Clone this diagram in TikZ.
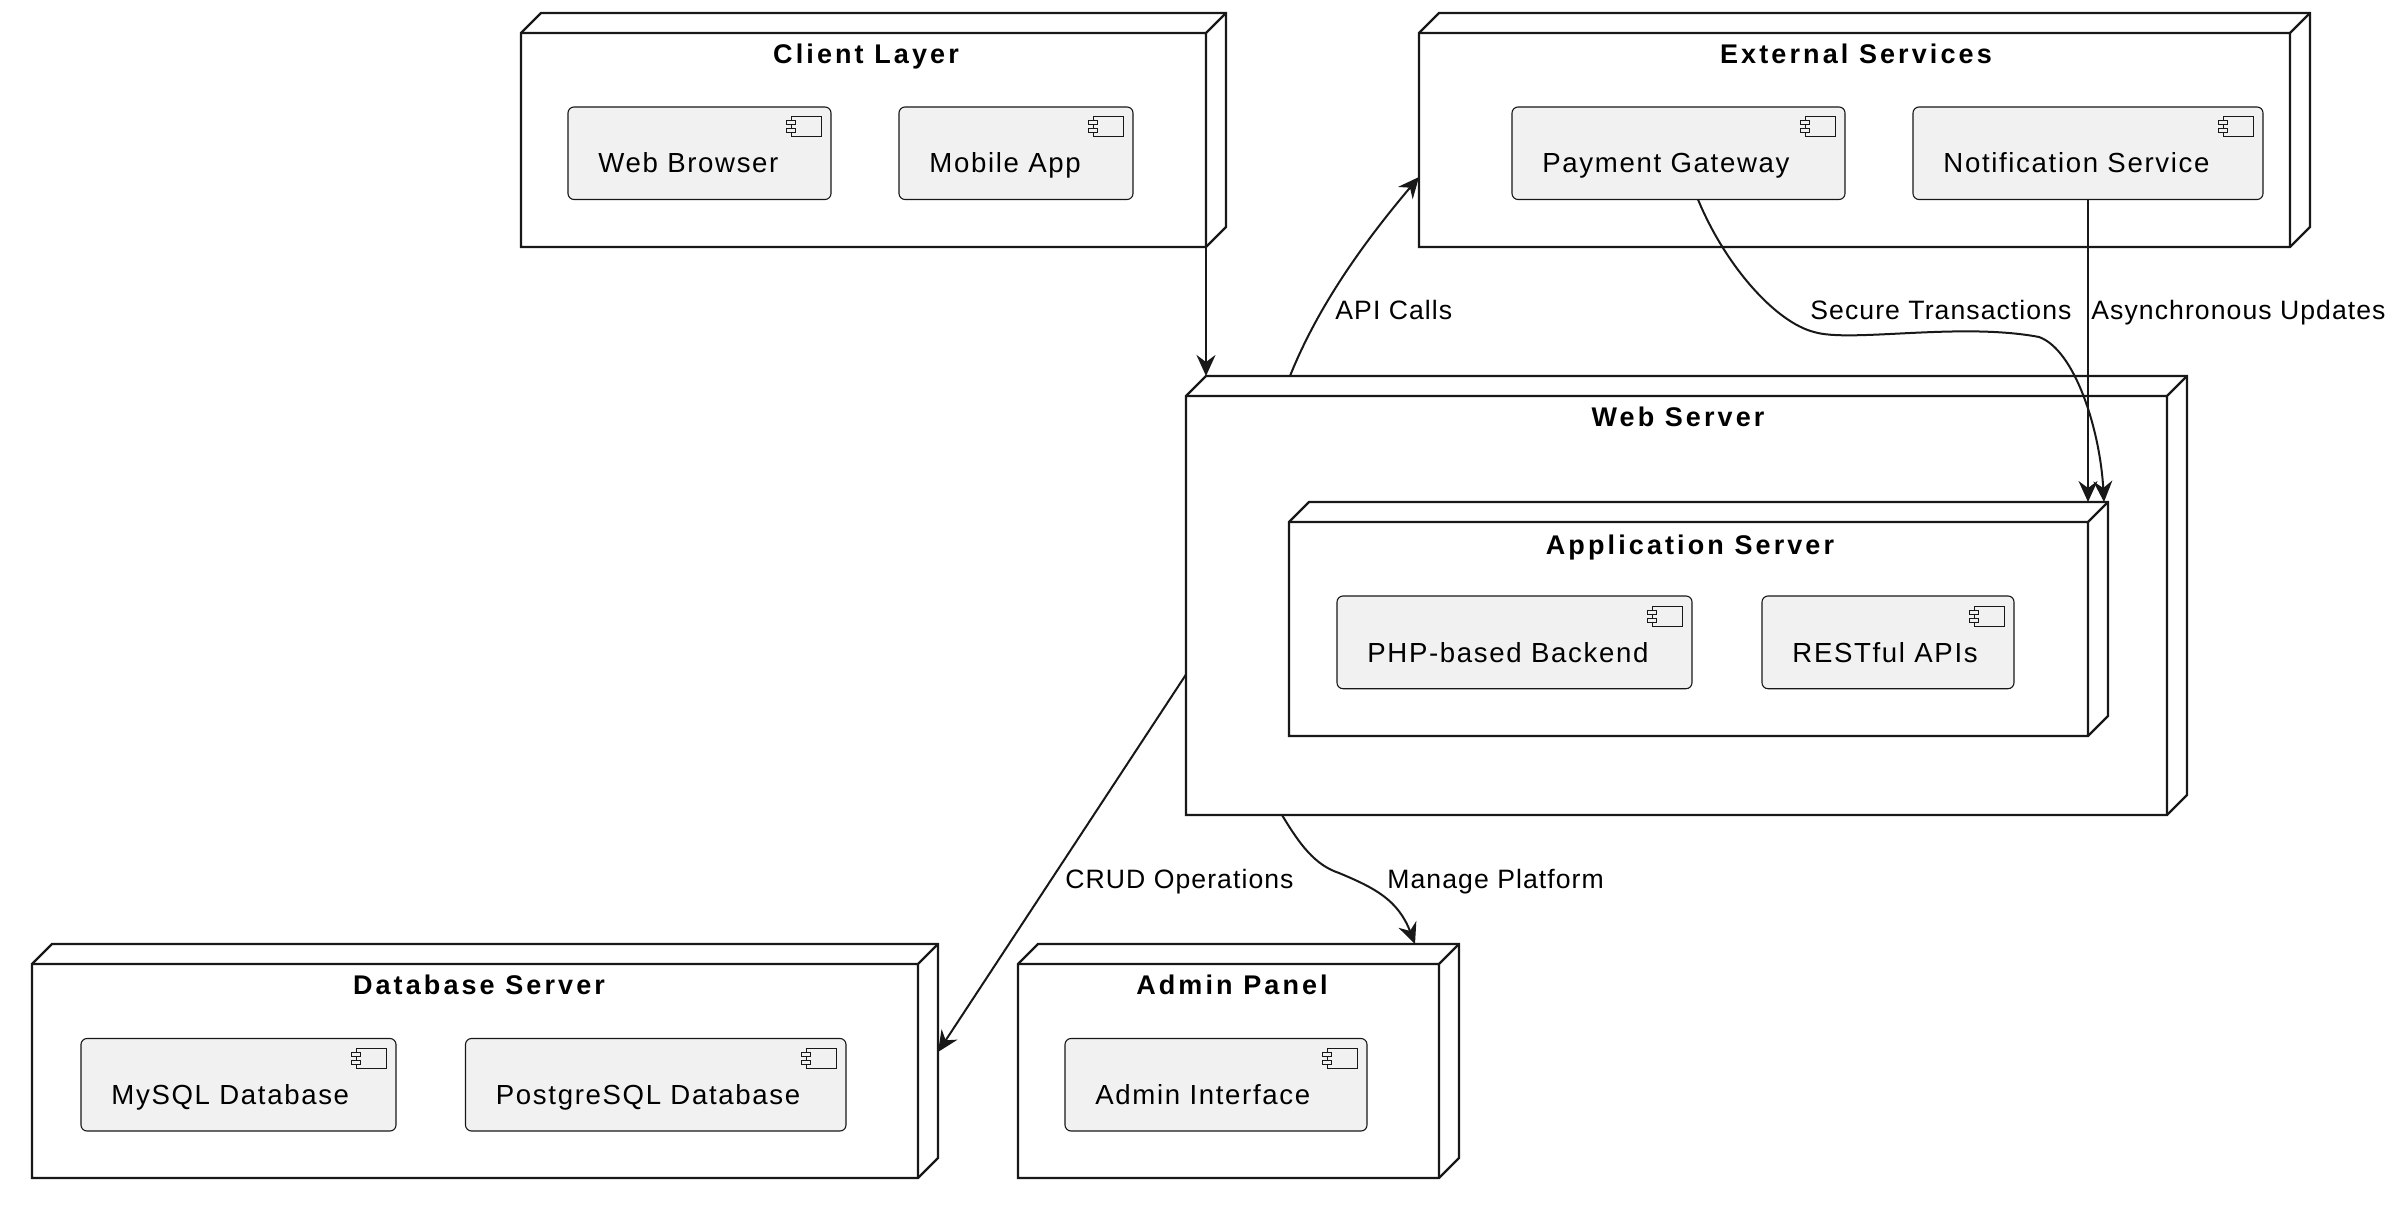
\documentclass[tikz,border=0pt]{standalone}
\usepackage{fontspec}
\setmainfont{Liberation Sans}
\usetikzlibrary{fit,calc,arrows.meta}
\definecolor{ink}{HTML}{181818}
\definecolor{compfill}{HTML}{F1F1F1}
\newcommand{\deployframe}[5]{%
  \node[fit={(#2,#3)(#4,#5)},inner sep=0pt,outer sep=0pt] (#1) {};
  \draw[frame,fill=white] (#2,#3+20) -- (#2+20,#3) -- (#4,#3) -- (#4,#5-20) -- (#4-20,#5) -- (#2,#5) -- cycle;
  \draw[frame] (#2,#3+20) -- (#4-20,#3+20) -- (#4,#3) (#4-20,#3+20) -- (#4-20,#5);
}
\newcommand{\compbox}[6]{%
  \node[fit={(#2,#3)(#4,#5)},inner sep=0pt,outer sep=0pt,draw=ink,fill=compfill,line width=0.55pt,rounded corners=3pt] (#1) {};
  \draw[ink,line width=0.5pt,fill=compfill] (#4-40,#3+10) rectangle (#4-10,#3+30);
  \draw[ink,line width=0.5pt,fill=compfill] (#4-45,#3+14) rectangle (#4-36,#3+18);
  \draw[ink,line width=0.5pt,fill=compfill] (#4-45,#3+22) rectangle (#4-36,#3+26);
  \node[comptext] at (#2+30,#3+66) (#1-t) {#6};
}
\tikzset{
  x=0.5pt,y=-0.5pt,
  frame/.style={draw=ink,line width=1.15pt,line join=miter},
  comptext/.style={anchor=base west,inner sep=0pt,font=\fontsize{13.8pt}{16pt}\selectfont\addfontfeature{LetterSpace=6}},
  titletext/.style={anchor=base,inner sep=0pt,font=\fontsize{13.5pt}{16pt}\selectfont\bfseries\addfontfeature{LetterSpace=11.5}},
  linktext/.style={anchor=base west,inner sep=0pt,font=\fontsize{13.3pt}{16pt}\selectfont\addfontfeature{LetterSpace=4}},
  link/.style={draw=ink,line width=1pt,-{Stealth[length=10.5pt,width=9.5pt,inset=3.5pt]}},
}
\begin{document}
\begin{tikzpicture}
\useasboundingbox[fill=white] (0,0) rectangle (2400,1208);
\deployframe{client}{521}{13}{1226}{247}
\node[titletext] at (866,64) (clientT) {Client Layer};
\compbox{browser}{568}{107}{831}{199.5}{Web Browser}
\compbox{mobile}{899}{107}{1133}{199.5}{Mobile App}

\deployframe{ext}{1419}{13}{2310}{247}
\node[titletext] at (1856,64) (extT) {External Services};
\compbox{pay}{1512}{107}{1845}{199.5}{Payment Gateway}
\compbox{notif}{1913}{107}{2263}{199.5}{Notification Service}

\deployframe{web}{1186}{376}{2187}{815}
\node[titletext] at (1678,427) (webT) {Web Server};
\deployframe{app}{1289}{502}{2108}{736}
\node[titletext] at (1690,554) (appT) {Application Server};
\compbox{php}{1337}{596}{1692}{688.7}{PHP-based Backend}
\compbox{rest}{1762}{596}{2014}{688.7}{RESTful APIs}

\deployframe{db}{32}{944}{938}{1178}
\node[titletext] at (479,994) (dbT) {Database Server};
\compbox{mysql}{81}{1038.5}{396}{1131}{MySQL Database}
\compbox{pg}{465.5}{1038.5}{846}{1131}{PostgreSQL Database}

\deployframe{admin}{1018}{944}{1459}{1178}
\node[titletext] at (1232,994) (adminT) {Admin Panel};
\compbox{ai}{1065}{1038.5}{1367}{1131}{Admin Interface}

\draw[link] ($(client.south east)+(-20,0)$) -- ($(web.north west)+(20,0)$);
\draw[link] ($(web.north west)+(104,0)$) .. controls +(30,-75) and (1370,235) .. ($(ext.west)+(0,47)$);
\draw[link] ($(pay.south west)+(186,0)$) .. controls (1725,265) and (1775,322) .. (1814,332) .. controls (1850,343) and (1960,322) .. (2039,337) .. controls (2075,350) and (2100,430) .. ($(app.north east)+(-4,0)$);
\draw[link] ($(notif.south west)+(175,0)$) -- ($(app.north east)+(-20,0)$);
\draw[link] ($(web.west)+(0,79)$) -- ($(db.east)+(0,-9)$) ;
\draw[link] ($(web.south west)+(96,0)$) .. controls (1300,845) and (1315,865) .. (1339,873) .. controls (1375,888) and (1398,900) .. ($(admin.north east)+(-44,0)$);

\node[linktext] at (1335,320) (l1) {API Calls};
\node[linktext] at (1810,320) (l2) {Secure Transactions};
\node[linktext] at (2091,320) (l3) {Asynchronous Updates};
\node[linktext] at (1065,888) (l4) {CRUD Operations};
\node[linktext] at (1387,888) (l5) {Manage Platform};
\end{tikzpicture}
\end{document}
